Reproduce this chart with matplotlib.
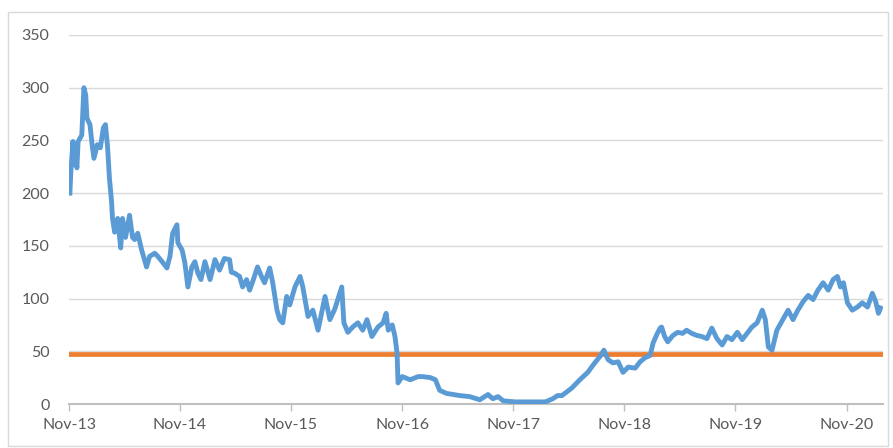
import matplotlib
matplotlib.use('Agg')
import matplotlib.pyplot as plt
import matplotlib.dates as mdates
import numpy as np
import pandas as pd

# price series (date, value)
dates = [
    "2013-11-04", "2013-11-07", "2013-11-14", "2013-11-17", "2013-11-20", "2013-11-27",
    "2013-12-01", "2013-12-13", "2013-12-20", "2013-12-26", "2013-12-30", "2014-01-09",
    "2014-01-16", "2014-01-22", "2014-02-02", "2014-02-12", "2014-02-22", "2014-03-01",
    "2014-03-08", "2014-03-14", "2014-03-21", "2014-03-24", "2014-03-31", "2014-04-10",
    "2014-04-20", "2014-04-26", "2014-05-06", "2014-05-19", "2014-05-29", "2014-06-05",
    "2014-06-15", "2014-06-28", "2014-07-14", "2014-07-24", "2014-08-10", "2014-08-20",
    "2014-09-06", "2014-09-19", "2014-09-29", "2014-10-08", "2014-10-22", "2014-10-25",
    "2014-11-08", "2014-11-17", "2014-11-27", "2014-12-10", "2014-12-20", "2014-12-30",
    "2015-01-09", "2015-01-22", "2015-02-08", "2015-02-24", "2015-03-11", "2015-03-27",
    "2015-04-13", "2015-04-19", "2015-04-30", "2015-05-16", "2015-05-26", "2015-06-08",
    "2015-06-18", "2015-06-28", "2015-07-14", "2015-07-27", "2015-08-06", "2015-08-23",
    "2015-09-02", "2015-09-16", "2015-09-25", "2015-10-05", "2015-10-18", "2015-10-28",
    "2015-11-14", "2015-12-01", "2015-12-10", "2015-12-27", "2016-01-12", "2016-01-29",
    "2016-02-21", "2016-03-08", "2016-03-24", "2016-04-03", "2016-04-16", "2016-04-23",
    "2016-05-06", "2016-05-22", "2016-06-08", "2016-06-24", "2016-07-08", "2016-07-24",
    "2016-08-13", "2016-08-30", "2016-09-09", "2016-09-16", "2016-09-29", "2016-10-08",
    "2016-10-15", "2016-10-18", "2016-11-01", "2016-11-27", "2016-12-23", "2017-01-06",
    "2017-02-02", "2017-02-18", "2017-03-04", "2017-03-27", "2017-05-09", "2017-06-11",
    "2017-07-14", "2017-08-10", "2017-08-26", "2017-09-12", "2017-09-29", "2017-11-08",
    "2017-12-27", "2018-02-15", "2018-03-11", "2018-03-27", "2018-04-10", "2018-05-12",
    "2018-06-08", "2018-07-04", "2018-07-27", "2018-08-13", "2018-08-26", "2018-09-09",
    "2018-09-25", "2018-10-12", "2018-10-28", "2018-11-14", "2018-12-07", "2018-12-23",
    "2019-01-09", "2019-01-25", "2019-02-04", "2019-02-18", "2019-02-27", "2019-03-04",
    "2019-03-14", "2019-03-24", "2019-04-10", "2019-04-26", "2019-05-12", "2019-05-25",
    "2019-06-11", "2019-06-28", "2019-07-14", "2019-07-31", "2019-08-16", "2019-09-02",
    "2019-09-19", "2019-10-05", "2019-10-21", "2019-11-08", "2019-11-24", "2019-12-10",
    "2019-12-26", "2020-01-12", "2020-01-29", "2020-02-08", "2020-02-18", "2020-03-01",
    "2020-03-17", "2020-04-13", "2020-04-23", "2020-05-09", "2020-05-25", "2020-06-11",
    "2020-06-28", "2020-07-14", "2020-07-30", "2020-08-16", "2020-09-02", "2020-09-18",
    "2020-10-02", "2020-10-12", "2020-10-22", "2020-11-04", "2020-11-20", "2020-12-07",
    "2020-12-23", "2021-01-09", "2021-01-25", "2021-02-05", "2021-02-14", "2021-02-21",
]
values = [
    200, 220, 249, 227, 240, 224,
    249, 255, 300, 293, 271, 265,
    246, 233, 246, 243, 262, 265,
    243, 214, 192, 176, 163, 176,
    148, 176, 158, 179, 158, 156,
    162, 146, 130, 140, 143, 140,
    134, 129, 140, 162, 170, 153,
    146, 134, 111, 130, 135, 124,
    118, 135, 118, 137, 127, 138,
    137, 125, 124, 121, 111, 118,
    108, 116, 130, 121, 115, 129,
    115, 89, 80, 77, 102, 94,
    111, 121, 111, 83, 89, 70,
    102, 80, 90, 99, 111, 77,
    68, 73, 77, 70, 80, 64,
    73, 77, 86, 70, 75, 64,
    48, 20, 26, 23, 26, 26,
    25, 23, 13, 10, 8, 7,
    4, 9, 5, 7, 3, 2,
    2, 2, 5, 8, 8, 15,
    23, 30, 39, 45, 51, 42,
    39, 40, 30, 35, 34, 40,
    44, 46, 58, 67, 72, 73,
    64, 59, 65, 68, 67, 70,
    67, 65, 64, 62, 72, 62,
    56, 64, 61, 68, 61, 67,
    73, 77, 89, 80, 54, 51,
    70, 84, 89, 80, 89, 97,
    103, 99, 108, 115, 108, 118,
    121, 111, 115, 96, 89, 92,
    96, 92, 105, 97, 86, 91,
]
threshold = 47
tick_years = [2013, 2014, 2015, 2016, 2017, 2018, 2019, 2020]

x = pd.to_datetime(dates)
start = pd.Timestamp("2013-11-01")
end = pd.Timestamp("2021-03-01")

plt.rcParams['font.family'] = ['Lato', 'DejaVu Sans']

fig = plt.figure(figsize=(8.93, 4.48), dpi=100)
ax = fig.add_axes([69 / 893, 1 - 404 / 448, (883 - 69) / 893, (404 - 35) / 448])

ax.plot(x, values, color="#5B9BD5", lw=3.5, solid_joinstyle="round", zorder=3)
ax.plot([start, end], [threshold, threshold], color="#ED7D31", lw=3.4, zorder=2)

ax.set_xlim(start, end)
ax.set_ylim(0, 350)
ax.set_yticks(np.arange(0, 351, 50))
ax.set_xticks([pd.Timestamp(f"{y}-11-01") for y in tick_years])
ax.xaxis.set_major_formatter(mdates.DateFormatter("%b-%y"))

ax.grid(axis="y", color="#d9d9d9", lw=1.0)
ax.set_axisbelow(True)
for s in ["top", "right", "left"]:
    ax.spines[s].set_visible(False)
ax.spines["bottom"].set_color("#bfbfbf")
ax.spines["bottom"].set_linewidth(1.5)
ax.spines["bottom"].set_zorder(1)

ax.tick_params(axis="y", length=0, pad=14, labelsize=11.5, labelcolor="#595959")
ax.tick_params(axis="x", length=5, width=1, color="#bfbfbf", pad=5,
               labelsize=11.5, labelcolor="#595959")

# chart-area border
fig.add_artist(plt.Rectangle((8 / 893, 2 / 448), 880 / 893, 434 / 448,
                             transform=fig.transFigure, fill=False,
                             edgecolor="#d9d9d9", lw=1))

fig.savefig("out.png", dpi=100)
